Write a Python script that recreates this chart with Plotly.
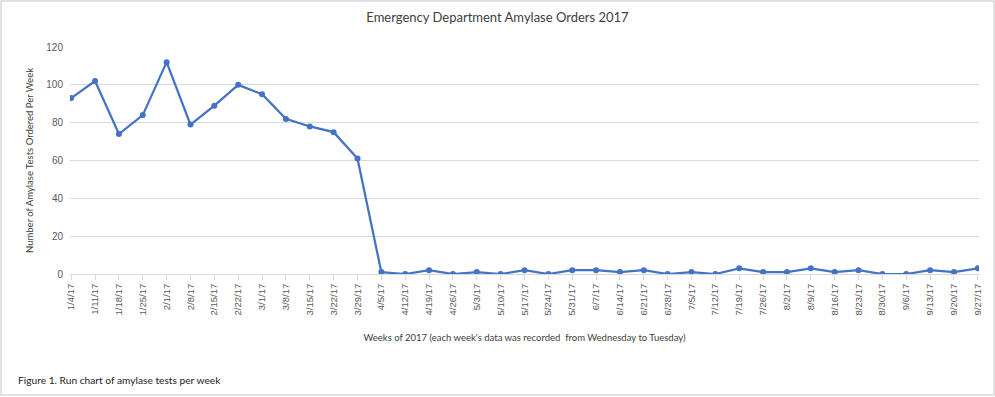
import plotly.graph_objects as go

weeks = ["1/4/17", "1/11/17", "1/18/17", "1/25/17", "2/1/17", "2/8/17", "2/15/17", "2/22/17",
         "3/1/17", "3/8/17", "3/15/17", "3/22/17", "3/29/17", "4/5/17", "4/12/17", "4/19/17",
         "4/26/17", "5/3/17", "5/10/17", "5/17/17", "5/24/17", "5/31/17", "6/7/17", "6/14/17",
         "6/21/17", "6/28/17", "7/5/17", "7/12/17", "7/19/17", "7/26/17", "8/2/17", "8/9/17",
         "8/16/17", "8/23/17", "8/30/17", "9/6/17", "9/13/17", "9/20/17", "9/27/17"]
orders = [93, 102, 74, 84, 112, 79, 89, 100, 95, 82, 78, 75, 61, 1, 0, 2,
          0, 1, 0, 2, 0, 2, 2, 1, 2, 0, 1, 0, 3, 1, 1, 3,
          1, 2, 0, 0, 2, 1, 3]
y_ticks = [0, 20, 40, 60, 80, 100, 120]

W, H = 995, 397
L, R, T, B = 70, 16, 47, 123
pw, ph = W - L - R, H - T - B

def px_x(p):
    return (p - L) / pw

def px_y(p):
    return (H - B - p) / ph

fig = go.Figure()
fig.add_trace(go.Scatter(
    x=weeks, y=orders, mode="lines+markers",
    line=dict(color="#4472C4", width=2.25),
    marker=dict(color="#4472C4", size=6),
    showlegend=False,
))

grey = "#595959"
fig.update_layout(
    width=W, height=H,
    margin=dict(l=L, r=R, t=T, b=B),
    paper_bgcolor="white", plot_bgcolor="white",
    title=dict(text="Emergency Department Amylase Orders 2017",
               font=dict(family="Lato, sans-serif", size=13, color="#404040"),
               x=0.5, xref="container", xanchor="center",
               y=1 - 17 / H, yref="container", yanchor="middle"),
    xaxis=dict(
        type="category", range=[-0.05, 38.05],
        showline=True, linecolor="#d9d9d9", linewidth=1,
        ticks="outside", ticklen=5, tickcolor="#d9d9d9",
        tickangle=-90, tickfont=dict(family="Liberation Sans, Arial", size=9.5, color=grey),
        showgrid=False,
        title=dict(text="Weeks of 2017 (each week's data was recorded  from Wednesday to Tuesday)",
                   font=dict(family="Lato, sans-serif", size=9.5, color="#404040"),
                   standoff=19),
    ),
    yaxis=dict(
        range=[0, 120], tickvals=y_ticks,
        showgrid=True, gridcolor="#d9d9d9", gridwidth=1,
        zeroline=False, showline=False,
        tickfont=dict(family="Liberation Sans, Arial", size=10, color=grey),
        ticklabelstandoff=6,
        title=dict(text="Number of Amylase Tests Ordered Per Week",
                   font=dict(family="Lato, sans-serif", size=9.5, color="#404040"),
                   standoff=10),
    ),
    annotations=[dict(
        text="Figure 1. Run chart of amylase tests per week",
        xref="paper", yref="paper", x=px_x(16), y=px_y(380),
        xanchor="left", yanchor="middle", showarrow=False,
        font=dict(family="Lato, sans-serif", size=10.2, color="#222222"),
    )],
    shapes=[dict(
        type="rect", xref="paper", yref="paper",
        x0=px_x(1), x1=px_x(994), y0=px_y(395), y1=px_y(1),
        line=dict(color="#d9d9d9", width=1.5), fillcolor="rgba(0,0,0,0)", layer="above",
    )],
)

fig.write_html("out.html", config={"displayModeBar": False},
               post_script="document.body.style.margin='0px';")
